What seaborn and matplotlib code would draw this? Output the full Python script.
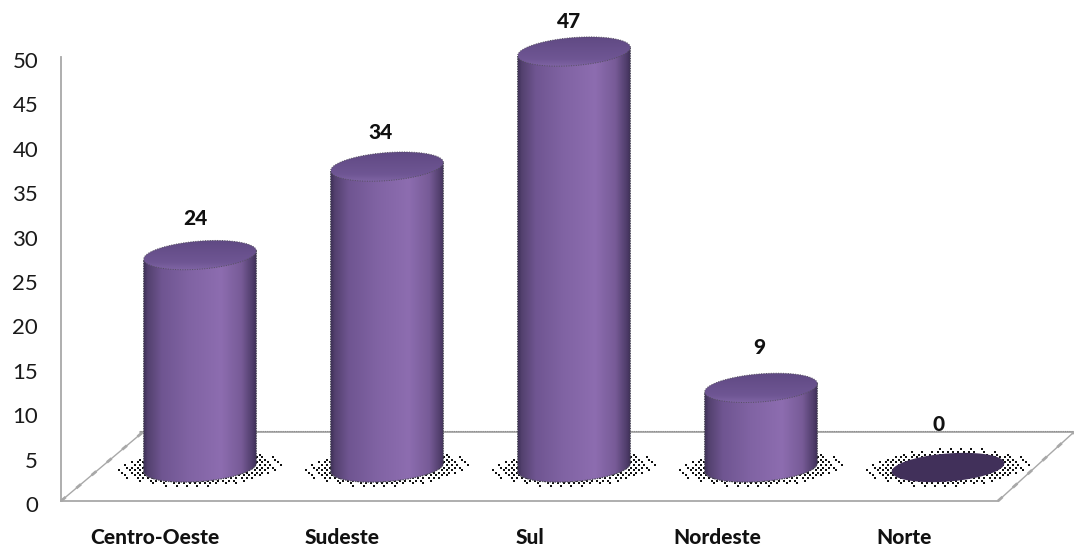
import numpy as np
import pandas as pd
import matplotlib
matplotlib.use("Agg")
import matplotlib.pyplot as plt
from matplotlib.colors import LinearSegmentedColormap
from matplotlib.lines import Line2D
from matplotlib.patches import PathPatch
from matplotlib.path import Path
from matplotlib.transforms import ScaledTranslation
import seaborn as sns

# Data
regions = ["Centro-Oeste", "Sudeste", "Sul", "Nordeste", "Norte"]
counts = [24, 34, 47, 9, 0]
axis_ticks = [0, 5, 10, 15, 20, 25, 30, 35, 40, 45, 50]

sns.set_style("white")
plt.rcParams["font.family"] = ["Lato", "DejaVu Sans"]

W, H = 1074, 549
GRID = "#a8a8a8"
fig = plt.figure(figsize=(W / 100, H / 100), dpi=100, facecolor="white")


def fig_rect(left, top, right, bottom):
    return [left / W, 1 - bottom / H, (right - left) / W, (bottom - top) / H]


# Back wall axes: carries the tick labels and the two visible spines
wall = fig.add_axes(fig_rect(61, 57, 998, 501), zorder=0)
wall.set_facecolor("none")
wall.set_xlim(-0.5, 4.5)
wall.set_ylim(0, 50)
wall.set_yticks(axis_ticks)
wall.set_xticks(range(len(regions)), regions)
wall.tick_params(axis="y", length=0, pad=16.5, labelsize=16, labelcolor="#1a1a1a")
wall.tick_params(axis="x", length=0, pad=19.5, labelsize=15, labelcolor="#111111")
for label in wall.get_xticklabels():
    label.set_fontweight("black")
# Nudge the numbers down so they sit centred on their levels
nudge = ScaledTranslation(0, -3 / 100, fig.dpi_scale_trans)
for label in wall.get_yticklabels():
    label.set_transform(label.get_transform() + nudge)
for side in ("top", "right"):
    wall.spines[side].set_visible(False)
for side in ("left", "bottom"):
    wall.spines[side].set_color(GRID)
    wall.spines[side].set_linewidth(1.3)


# Floor outline in perspective
def floor_line(xs, ys, **kw):
    fig.add_artist(Line2D(np.array(xs) / W, 1 - np.array(ys) / H,
                          transform=fig.transFigure, zorder=1, **kw))


floor_line([140, 1074], [432, 432], color=GRID, lw=1.3)
floor_line([140, 1074], [431, 431], color="#8c8c8c", lw=0.8, ls=(0, (1, 1)))
for xs in ([61, 143], [998, 1074]):
    floor_line(xs, [501, 432], color=GRID, lw=1.0)
    floor_line(xs, [501, 432], color=GRID, lw=2.0, ls=(0, (2.2, 5.0)))

# Overlay axes spanning the figure, scaled so the bars stand on the floor
PX_PER_CAT = 187.0
PX_PER_UNIT = 8.85
X0_PX = 200.0
Y0_PX = 467.5
ax = fig.add_axes([0, 0, 1, 1], zorder=2)
ax.set_facecolor("none")

frame = pd.DataFrame({"region": regions, "count": counts})
sns.barplot(data=frame, x="region", y="count", ax=ax, width=113 / PX_PER_CAT,
            color="#8868aa", saturation=1, linewidth=0, errorbar=None)
ax.set_xlim(-X0_PX / PX_PER_CAT, (W - X0_PX) / PX_PER_CAT)
ax.set_ylim((Y0_PX - H) / PX_PER_UNIT, Y0_PX / PX_PER_UNIT)
ax.axis("off")

body_cmap = LinearSegmentedColormap.from_list(
    "cylinder",
    [(0.0, "#3c2e55"), (0.04, "#54416f"), (0.16, "#6f5591"), (0.4, "#8063a3"),
     (0.68, "#8d6db0"), (0.86, "#775b97"), (0.96, "#4e3c69"), (1.0, "#38294f")],
)
cap_cmap = LinearSegmentedColormap.from_list(
    "cap", [(0.0, "#5d4780"), (0.7, "#6f5694"), (0.88, "#7f64a4"), (1.0, "#a58dc6")]
)

A_PX, B_PX = 56.5, 14.0
TILT = np.deg2rad(4.5)
# Value labels drift as the bars recede from the viewer
LABEL_SHIFT_X = [-5, -6, -5, -2, -9]
DOT_PITCH = 2.6


def ellipse(cx, cy, t):
    """Tilted ellipse outline at parameter t, in data units, sized in pixels."""
    x_px = A_PX * np.cos(t) * np.cos(TILT) - B_PX * np.sin(t) * np.sin(TILT)
    y_px = A_PX * np.cos(t) * np.sin(TILT) + B_PX * np.sin(t) * np.cos(TILT)
    return cx + x_px / PX_PER_CAT, cy + y_px / PX_PER_UNIT


def stipple(cx):
    """Dithered contact shadow around a cylinder base."""
    i, j = np.meshgrid(np.arange(-32, 33), np.arange(-8, 9))
    tilted = j - i * 0.03
    r = np.hypot(i * DOT_PITCH / 79, tilted * DOT_PITCH / 18.5)
    solid = (r < 0.88) & ((i + j) % 2 == 0)
    fringe = (r >= 0.88) & (r < 1.03) & ((i + j) % 4 == 0)
    keep = solid | fringe
    ax.scatter(cx + i[keep] * DOT_PITCH / PX_PER_CAT, j[keep] * DOT_PITCH / PX_PER_UNIT,
               s=2.6, marker="s", color="#111111", linewidths=0, zorder=1)


ts = np.linspace(0, 2 * np.pi, 180)
for patch, value, shift in zip(list(ax.patches), counts, LABEL_SHIFT_X):
    cx = patch.get_x() + patch.get_width() / 2
    patch.set_visible(False)
    stipple(cx)

    if value > 0:
        low = np.linspace(np.pi, 2 * np.pi, 60)
        bx, by = ellipse(cx, 0, low)
        tx, ty = ellipse(cx, value, np.array([2 * np.pi, np.pi]))
        verts = list(zip(bx, by)) + list(zip(tx, ty)) + [(bx[0], by[0])]
        body = PathPatch(Path(verts, closed=True), fc="none", ec="#4a4a55", lw=0.9,
                         ls=(0, (1, 1)), zorder=3)
        ax.add_patch(body)
        shade = ax.imshow(np.linspace(0, 1, 200)[None, :], cmap=body_cmap,
                          aspect="auto", zorder=2, interpolation="bilinear",
                          extent=(cx - (A_PX + 1) / PX_PER_CAT, cx + (A_PX + 1) / PX_PER_CAT,
                                  -3, value + 3))
        shade.set_clip_path(body)

        ex, ey = ellipse(cx, value, ts)
        cap_outline = PathPatch(Path(np.column_stack([ex, ey]), closed=True), fc="none",
                                ec="#55505f", lw=0.7, ls=(0, (1, 1.5)), zorder=5)
        ax.add_patch(cap_outline)
        cap = ax.imshow(np.linspace(0, 1, 100)[:, None], cmap=cap_cmap, origin="upper",
                        aspect="auto", zorder=4, interpolation="bilinear",
                        extent=(cx - A_PX / PX_PER_CAT, cx + A_PX / PX_PER_CAT,
                                value - 19 / PX_PER_UNIT, value + 19 / PX_PER_UNIT))
        cap.set_clip_path(cap_outline)
    else:
        ex, ey = ellipse(cx, value, ts)
        ax.fill(ex, ey, color="#41305a", lw=0, zorder=4)

    label_rise_px = 43 - 0.27 * value
    ax.text(cx + shift / PX_PER_CAT, value + label_rise_px / PX_PER_UNIT, str(value),
            ha="center", va="center", fontsize=15, fontweight="black",
            color="#111111", zorder=6)

ax.set_xlim(-X0_PX / PX_PER_CAT, (W - X0_PX) / PX_PER_CAT)
ax.set_ylim((Y0_PX - H) / PX_PER_UNIT, Y0_PX / PX_PER_UNIT)

fig.savefig("out.png", dpi=100, facecolor="white")
